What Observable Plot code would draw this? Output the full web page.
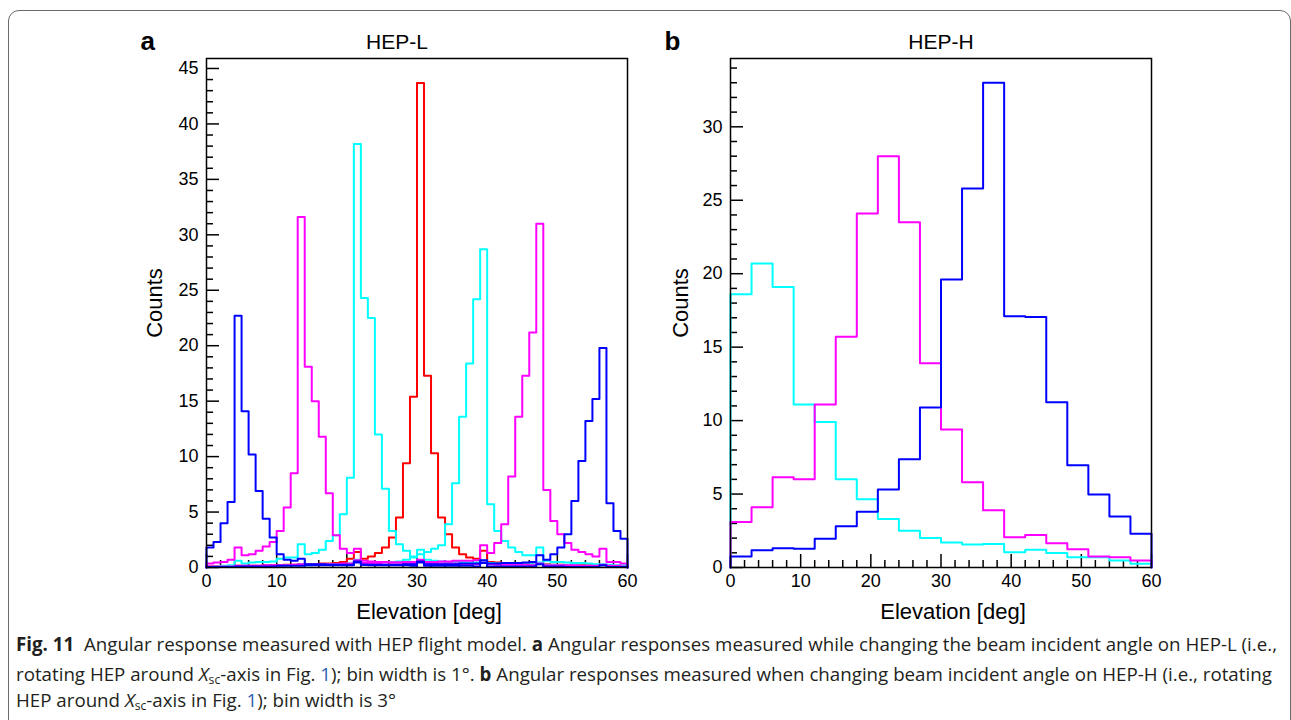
<!DOCTYPE html>
<html><head><meta charset="utf-8">
<script src="https://cdn.jsdelivr.net/npm/d3@7"></script>
<script src="https://cdn.jsdelivr.net/npm/@observablehq/plot@0.6"></script>
<style>
body{margin:0;background:#fff;}
#fig{position:relative;width:1291px;height:720px;overflow:hidden;background:#fff;}
#border{position:absolute;left:8px;top:10px;width:1283px;height:800px;border:1.5px solid #6a6a6a;border-radius:11px;box-sizing:border-box;}
.panel{position:absolute;top:0;}
.cap{position:absolute;left:16px;white-space:nowrap;font-family:"Open Sans","Noto Sans",sans-serif;font-size:19px;line-height:22px;color:#231f20;transform-origin:0 0;}
.cap sub{font-size:0.65em;line-height:0;vertical-align:-0.25em;}
.lnk{color:#2f5fb3;}
</style></head>
<body>
<div id="fig">
  <div id="border"></div>
  <div id="pa" class="panel" style="left:110px"></div>
  <div id="pb" class="panel" style="left:634px"></div>
  <div class="cap" id="cap1" style="top:633px"><b>Fig. 11</b>&nbsp; Angular response measured with HEP flight model. <b>a</b> Angular responses measured while changing the beam incident angle on HEP-L (i.e.,</div>
  <div class="cap" style="top:663px">rotating HEP around <i>X</i><sub>sc</sub>-axis in Fig. <span class="lnk">1</span>); bin width is 1°. <b>b</b> Angular responses measured when changing beam incident angle on HEP-H (i.e., rotating</div>
  <div class="cap" style="top:689px">HEP around <i>X</i><sub>sc</sub>-axis in Fig. <span class="lnk">1</span>); bin width is 3°</div>
</div>
<script>
// ---------- DATA ----------
// Panel a (HEP-L): 1° bins, lower edges 0..59
const binEdgesA = d3.range(0, 60, 1);
const binWidthA = 1;
const aBlue4 = [1.8,2.3,4.0,5.9,22.7,14.1,10.2,6.9,4.4,2.7, 1.2,0.7,0.6,0.8,0.3,0.3,0.3,0.25,0.25,0.25, 0.25,0.55,0.25,0.2,0.2,0.2,0.2,0.2,0.2,0.15, 0.45,0.15,0.15,0.15,0.15,0.15,0.15,0.15,0.1,0.4, 0.1,0.1,0.1,0.1,0.1,0.1,0.1,0.3,0.1,0.1, 0.1,0.05,0.05,0.05,0.05,0.05,0.2,0.05,0.05,0.05];
const aMagenta13 = [0.35,0.45,0.5,0.7,1.8,1.1,1.2,1.5,1.9,2.3, 3.3,5.4,8.5,31.6,18.1,15.0,11.8,6.7,2.9,1.7, 1.3,1.7,0.6,0.55,0.5,0.5,0.45,0.45,0.4,0.4, 0.6,0.4,0.35,0.35,0.35,0.35,0.3,0.3,0.3,0.45, 0.3,0.25,0.25,0.25,0.25,0.25,0.2,0.35,0.2,0.2, 0.2,0.2,0.2,0.15,0.15,0.15,0.25,0.15,0.15,0.1];
const aCyan21 = [0.05,0.1,0.15,0.2,0.6,0.35,0.45,0.5,0.5,0.55, 0.8,0.9,0.9,2.1,1.2,1.3,1.6,2.4,2.9,4.8, 8.1,38.2,24.3,22.5,12.0,7.1,3.3,2.1,1.5,1.0, 1.6,0.7,0.6,0.55,0.5,0.5,0.5,0.45,0.45,0.6, 0.4,0.35,0.35,0.3,0.3,0.3,0.3,0.45,0.25,0.25, 0.2,0.2,0.2,0.15,0.15,0.15,0.2,0.1,0.1,0.1];
const aRed30 = [0.1,0.1,0.1,0.1,0.15,0.15,0.15,0.15,0.2,0.2, 0.2,0.25,0.25,0.3,0.3,0.3,0.35,0.35,0.4,0.5, 0.8,1.4,0.8,1.0,1.3,1.8,2.7,4.5,9.4,15.4, 43.7,17.3,10.3,4.5,3.0,1.8,1.2,0.9,0.8,1.5, 0.5,0.45,0.4,0.4,0.35,0.35,0.3,0.4,0.3,0.25, 0.25,0.2,0.2,0.2,0.2,0.15,0.2,0.15,0.1,0.1];
const aCyan39 = [0.05,0.05,0.05,0.1,0.1,0.1,0.1,0.1,0.15,0.15, 0.15,0.2,0.2,0.3,0.2,0.25,0.25,0.3,0.3,0.3, 0.35,0.7,0.4,0.4,0.45,0.5,0.5,0.55,0.7,0.9, 1.2,1.4,1.7,2.0,3.9,7.6,13.6,18.4,24.2,28.7, 5.7,3.3,2.4,1.8,1.4,1.1,1.1,1.8,0.6,0.5, 0.5,0.45,0.4,0.4,0.35,0.3,0.3,0.25,0.2,0.2];
const aMagenta47 = [0.1,0.1,0.1,0.1,0.15,0.15,0.15,0.15,0.2,0.2, 0.2,0.2,0.25,0.3,0.25,0.25,0.3,0.3,0.3,0.35, 0.35,0.65,0.4,0.4,0.4,0.45,0.45,0.45,0.5,0.5, 0.7,0.5,0.5,0.55,0.55,0.6,0.6,0.6,0.65,2.0, 1.3,2.2,3.9,8.2,13.6,17.3,21.2,31.0,7.0,4.2, 3.0,2.2,1.6,1.4,1.2,1.0,1.7,0.5,0.5,0.35];
const aBlue56 = [0.05,0.05,0.05,0.05,0.1,0.1,0.1,0.1,0.1,0.1, 0.15,0.15,0.15,0.15,0.2,0.2,0.2,0.2,0.2,0.2, 0.2,0.45,0.25,0.25,0.25,0.25,0.25,0.25,0.3,0.3, 0.55,0.3,0.3,0.3,0.3,0.3,0.35,0.35,0.35,0.65, 0.35,0.35,0.4,0.4,0.4,0.45,0.5,1.1,0.7,1.2, 1.8,3.0,6.0,9.6,13.2,15.2,19.8,5.8,3.3,2.6];

// Panel b (HEP-H): 3° bins, lower edges 0..57
const binEdgesB = d3.range(0, 60, 3);
const binWidthB = 3;
const bCyan = [18.6,20.7,19.1,11.1,9.9,6.0,4.65,3.3,2.5,2.0,1.7,1.56,1.6,1.04,1.2,0.98,0.7,0.7,0.48,0.25];
const bMagenta = [3.1,4.1,6.15,6.0,11.1,15.7,24.1,28.0,23.5,13.9,9.4,5.8,3.9,2.06,2.22,1.65,1.25,0.75,0.7,0.48];
const bBlue = [0.75,1.18,1.31,1.27,1.95,2.81,3.79,5.31,7.37,10.9,19.6,25.8,33.0,17.1,17.05,11.25,6.96,4.97,3.47,2.29];

// Axis ticks
const xMajor = [0,10,20,30,40,50,60];
const xMinor = [2,4,6,8,12,14,16,18,22,24,26,28,32,34,36,38,42,44,46,48,52,54,56,58];
const yMajorA = [0,5,10,15,20,25,30,35,40,45];
const yMajorB = [0,5,10,15,20,25,30];

const colBlue = "#0000ff", colMagenta = "#ff00ff", colCyan = "#00ffff", colRed = "#ff0000";

// ---------- helpers ----------
function steps(edges, vals, w) {
  const last = edges[edges.length - 1] + w;
  const pts = [{x: edges[0], y: 0}];
  vals.forEach((v, i) => pts.push({x: edges[i], y: v}));
  pts.push({x: last, y: vals[vals.length - 1]});
  pts.push({x: last, y: 0});
  return pts;
}
function minorOf(major, maxV) {
  const out = [];
  for (let v = 0; v <= maxV; v++) if (!major.includes(v)) out.push(v);
  return out;
}

function panel({hists, ymax, yMajor, title, letter, titleDx, labelDx}) {
  const W = 540, H = 640, mL = 96, mR = 23, mT = 58, mB = 73;
  const fw = W - mL - mR, fh = H - mT - mB;
  const yMinor = minorOf(yMajor, Math.floor(ymax));
  const font = "'Liberation Sans', Arial, Helvetica, sans-serif";
  return Plot.plot({
    width: W, height: H,
    marginLeft: mL, marginRight: mR, marginTop: mT, marginBottom: mB,
    x: {domain: [0, 60]},
    y: {domain: [0, ymax]},
    style: {fontFamily: font, fontSize: "18px", color: "black", background: "transparent", overflow: "visible"},
    marks: [
      Plot.axisX(xMajor, {tickSize: 0, tickPadding: 7, label: null, fontSize: 18}),
      Plot.axisY(yMajor, {tickSize: 0, tickPadding: 8, label: null, fontSize: 18}),
      Plot.ruleX(xMajor, {insetTop: fh - 13, stroke: "black", strokeWidth: 1.5}),
      Plot.ruleX(xMinor, {insetTop: fh - 7, stroke: "black", strokeWidth: 1.5}),
      Plot.ruleY(yMajor, {insetRight: fw - 13, stroke: "black", strokeWidth: 1.5}),
      Plot.ruleY(yMinor, {insetRight: fw - 7, stroke: "black", strokeWidth: 1.5}),
      ...hists.map(h => Plot.line(steps(h.edges, h.vals, h.w), {x: "x", y: "y", curve: "step-after", stroke: h.color, strokeWidth: 2})),
      Plot.frame({stroke: "black", strokeWidth: 1.5}),
      Plot.text([title], {text: d => d, frameAnchor: "top", dx: titleDx, dy: -10, lineAnchor: "bottom", fontSize: 21}),
      Plot.text([letter], {text: d => d, frameAnchor: "top-left", dx: -66, dy: -9, lineAnchor: "bottom", textAnchor: "start", fontSize: 26, fontWeight: "bold"}),
      Plot.text(["Counts"], {text: d => d, frameAnchor: "left", dx: labelDx, dy: -10, rotate: -90, textAnchor: "middle", fontSize: 22}),
      Plot.text(["Elevation [deg]"], {text: d => d, frameAnchor: "bottom", dx: 12, dy: 51, fontSize: 22})
    ]
  });
}

document.getElementById("pa").append(panel({
  hists: [
    {edges: binEdgesA, vals: aRed30, w: binWidthA, color: colRed},
    {edges: binEdgesA, vals: aCyan21, w: binWidthA, color: colCyan},
    {edges: binEdgesA, vals: aCyan39, w: binWidthA, color: colCyan},
    {edges: binEdgesA, vals: aMagenta13, w: binWidthA, color: colMagenta},
    {edges: binEdgesA, vals: aMagenta47, w: binWidthA, color: colMagenta},
    {edges: binEdgesA, vals: aBlue4, w: binWidthA, color: colBlue},
    {edges: binEdgesA, vals: aBlue56, w: binWidthA, color: colBlue}
  ],
  ymax: 45.9, yMajor: yMajorA, title: "HEP-L", letter: "a", titleDx: -20, labelDx: -52
}));

document.getElementById("pb").append(panel({
  hists: [
    {edges: binEdgesB, vals: bCyan, w: binWidthB, color: colCyan},
    {edges: binEdgesB, vals: bMagenta, w: binWidthB, color: colMagenta},
    {edges: binEdgesB, vals: bBlue, w: binWidthB, color: colBlue}
  ],
  ymax: 34.65, yMajor: yMajorB, title: "HEP-H", letter: "b", titleDx: 0, labelDx: -50
}));

// condense caption uniformly so that line 1 spans the reference width
const w1 = document.getElementById("cap1").getBoundingClientRect().width;
const s = w1 > 0 ? 1261 / w1 : 1;
document.querySelectorAll(".cap").forEach(el => { el.style.transform = `scaleX(${s})`; });
</script>
</body></html>
